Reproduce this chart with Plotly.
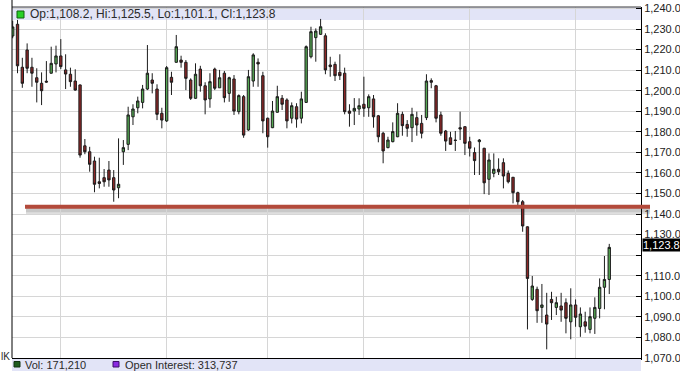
import plotly.graph_objects as go
import pandas as pd

# ---- data ----
open_ = [1226.6, 1232.3, 1211.4, 1219.8, 1211.4, 1206.3, 1203.6, 1204.6, 1208.5, 1213.0,
         1216.9, 1210.1, 1208.0, 1204.7, 1202.8, 1173.2, 1170.3, 1165.8, 1155.7, 1157.7,
         1161.4, 1157.7, 1152.8, 1170.3, 1173.9, 1187.3, 1191.7, 1194.3, 1200.8, 1205.2,
         1200.8, 1189.0, 1185.3, 1206.5, 1213.8, 1214.9, 1213.8, 1205.2, 1196.3, 1210.5,
         1202.4, 1196.0, 1210.5, 1201.4, 1208.5, 1198.7, 1205.7, 1189.8, 1197.1, 1180.9,
         1204.7, 1213.8, 1207.3, 1186.6, 1182.0, 1189.5, 1196.3, 1195.5, 1186.6, 1192.2,
         1186.6, 1194.3, 1216.5, 1225.8, 1227.4, 1226.7, 1212.5, 1212.8, 1208.9, 1208.5,
         1190.1, 1190.1, 1191.1, 1193.4, 1191.7, 1196.0, 1187.8, 1179.3, 1172.3, 1175.2,
         1177.6, 1188.5, 1183.6, 1182.0, 1186.9, 1184.1, 1186.9, 1204.9, 1202.4, 1188.2,
         1180.4, 1177.1, 1176.0, 1182.0, 1182.5, 1175.2, 1169.9, 1175.2, 1172.0, 1156.9,
         1159.8, 1161.8, 1165.0, 1159.8, 1157.9, 1150.4, 1146.0, 1133.8, 1098.5, 1103.4,
         1094.6, 1090.9, 1098.5, 1094.6, 1095.3, 1096.9, 1087.6, 1095.8, 1085.2, 1087.6,
         1083.9, 1089.3, 1094.1, 1104.4, 1108.2]
high = [1234.0, 1234.4, 1216.0, 1223.0, 1216.0, 1210.9, 1208.9, 1214.4, 1221.4, 1221.9,
        1225.1, 1217.7, 1211.2, 1210.4, 1203.0, 1176.5, 1172.7, 1167.9, 1167.4, 1161.9,
        1165.8, 1161.4, 1176.8, 1176.0, 1192.2, 1193.4, 1197.1, 1202.8, 1222.2, 1208.5,
        1203.1, 1191.7, 1212.0, 1209.2, 1227.1, 1217.0, 1214.9, 1206.0, 1213.3, 1212.1,
        1204.1, 1208.5, 1211.2, 1210.1, 1209.6, 1206.8, 1207.6, 1198.2, 1197.9, 1210.1,
        1218.2, 1215.7, 1209.2, 1186.9, 1195.0, 1202.4, 1197.9, 1196.3, 1194.3, 1193.9,
        1199.5, 1222.0, 1231.1, 1230.3, 1234.9, 1227.9, 1216.5, 1214.1, 1217.7, 1211.2,
        1193.4, 1196.4, 1196.3, 1206.8, 1198.2, 1197.9, 1188.2, 1180.0, 1177.6, 1184.6,
        1193.9, 1189.8, 1185.7, 1191.7, 1189.8, 1188.2, 1208.0, 1206.0, 1202.8, 1189.8,
        1180.9, 1180.0, 1180.4, 1189.8, 1182.6, 1177.6, 1172.4, 1176.5, 1172.2, 1169.5,
        1169.5, 1167.1, 1167.1, 1161.2, 1158.0, 1150.9, 1146.8, 1134.0, 1109.9, 1104.7,
        1106.0, 1101.7, 1102.2, 1099.8, 1101.7, 1099.0, 1103.9, 1098.5, 1094.6, 1092.5,
        1094.6, 1099.5, 1108.7, 1119.6, 1125.5]
low = [1225.5, 1208.5, 1201.4, 1208.5, 1201.9, 1194.3, 1193.0, 1203.9, 1208.3, 1208.9,
       1210.5, 1200.8, 1201.9, 1200.0, 1167.4, 1169.1, 1160.6, 1150.6, 1152.5, 1153.3,
       1153.3, 1146.0, 1147.7, 1163.9, 1171.1, 1183.3, 1189.0, 1191.4, 1200.3, 1198.7,
       1185.7, 1181.7, 1184.8, 1197.9, 1213.6, 1211.2, 1200.3, 1195.5, 1196.0, 1199.5,
       1188.5, 1191.7, 1200.3, 1201.4, 1194.3, 1194.6, 1188.2, 1188.5, 1177.1, 1180.5,
       1201.9, 1201.9, 1179.3, 1172.3, 1181.8, 1189.3, 1190.6, 1181.7, 1184.1, 1182.0,
       1184.1, 1194.0, 1215.7, 1214.1, 1227.1, 1208.0, 1206.8, 1204.7, 1205.2, 1188.5,
       1182.5, 1183.3, 1188.2, 1187.3, 1187.3, 1182.0, 1174.9, 1164.7, 1172.0, 1174.9,
       1177.4, 1178.1, 1177.6, 1175.0, 1178.1, 1176.8, 1185.7, 1201.2, 1184.6, 1178.1,
       1170.7, 1173.6, 1170.7, 1176.0, 1168.7, 1168.0, 1159.0, 1159.0, 1149.7, 1149.3,
       1157.9, 1159.0, 1152.5, 1154.9, 1145.2, 1143.6, 1131.4, 1083.9, 1097.8, 1087.1,
       1087.1, 1074.2, 1088.5, 1090.9, 1087.6, 1082.0, 1079.1, 1085.2, 1080.3, 1082.3,
       1082.0, 1081.7, 1089.3, 1093.7, 1101.1]
close = [1231.0, 1212.1, 1203.6, 1210.9, 1208.5, 1204.1, 1200.0, 1204.2, 1213.3, 1216.9,
         1211.7, 1208.1, 1204.4, 1200.3, 1168.7, 1170.3, 1164.2, 1154.5, 1154.9, 1155.7,
         1156.6, 1151.7, 1154.5, 1172.3, 1188.2, 1191.1, 1195.0, 1200.8, 1208.5, 1203.6,
         1188.5, 1185.7, 1211.2, 1204.1, 1221.4, 1213.8, 1206.0, 1196.3, 1208.0, 1202.4,
         1195.5, 1204.4, 1201.2, 1206.3, 1196.6, 1206.3, 1190.1, 1197.6, 1178.4, 1206.8,
         1217.4, 1213.0, 1185.3, 1177.6, 1190.1, 1197.1, 1193.4, 1185.3, 1192.7, 1186.2,
         1196.0, 1221.4, 1228.7, 1229.0, 1231.1, 1210.1, 1211.7, 1207.3, 1207.3, 1189.8,
         1189.0, 1191.4, 1192.7, 1191.4, 1197.1, 1187.3, 1177.6, 1170.7, 1176.0, 1180.1,
         1189.0, 1183.0, 1181.7, 1188.5, 1183.3, 1179.3, 1204.7, 1204.1, 1186.6, 1179.3,
         1175.5, 1173.9, 1175.8, 1181.4, 1174.4, 1172.0, 1166.0, 1176.0, 1155.2, 1166.3,
         1161.8, 1160.6, 1158.5, 1155.7, 1150.4, 1146.0, 1134.2, 1108.7, 1105.0, 1093.0,
         1095.8, 1086.5, 1096.9, 1096.9, 1093.3, 1089.3, 1095.8, 1089.8, 1091.4, 1085.5,
         1090.1, 1094.6, 1104.4, 1108.2, 1123.8]

holidays = ["2015-02-16", "2015-04-03", "2015-05-25", "2015-07-03"]
dates = [d.strftime("%Y-%m-%d") for d in pd.bdate_range("2015-02-13", "2015-08-12")
         if d.strftime("%Y-%m-%d") not in holidays]
month_starts = ["2015-03-02", "2015-04-01", "2015-05-01", "2015-06-01", "2015-07-01", "2015-08-03"]

price_ticks = list(range(1070, 1250, 10))
price_labels = ["" if v == 1120 else f"{v:,.1f}" for v in price_ticks]
support_level = 1143.5
last_close = 1123.8
header_text = "Op:1,108.2, Hi:1,125.5, Lo:1,101.1, Cl:1,123.8"
vol_text = "Vol: 171,210"
oi_text = "Open Interest: 313,737"

W, H = 680, 371
ML, MR, MT, MB = 12, 39, 7, 13
PW, PH = W - ML - MR, H - MT - MB


def px(x):
    return (x - ML) / PW


def py(y):
    return 1 - (y - MT) / PH


FONT = "Liberation Sans"
LAV = "#e2e4f7"

fig = go.Figure(go.Candlestick(
    x=dates, open=open_, high=high, low=low, close=close,
    increasing=dict(line=dict(color="#1c1c1c", width=1), fillcolor="#55a853"),
    decreasing=dict(line=dict(color="#1c1c1c", width=1), fillcolor="#8e2727"),
    whiskerwidth=0, showlegend=False, hoverinfo="skip",
))

shapes = [
    # header band
    dict(type="rect", xref="paper", yref="paper", x0=0, x1=1, y0=py(20), y1=1,
         fillcolor=LAV, line=dict(width=0), layer="between"),
    # top border
    dict(type="line", xref="paper", yref="paper", x0=0, x1=1, y0=1, y1=1,
         line=dict(color="#3a3a3a", width=1)),
    # left border
    dict(type="line", xref="paper", yref="paper", x0=0, x1=0, y0=0, y1=py(0),
         line=dict(color="#000000", width=1)),
    # header square
    dict(type="rect", xref="paper", yref="paper", x0=px(17), x1=px(24), y0=py(18), y1=py(11),
         fillcolor="#27d027", line=dict(color="#0e5e0e", width=1)),
    # bottom band
    dict(type="rect", xref="paper", yref="paper", x0=0, x1=1, y0=py(H), y1=py(359),
         fillcolor=LAV, line=dict(width=0)),
    dict(type="rect", xref="paper", yref="paper", x0=px(14), x1=px(20), y0=py(367), y1=py(361.5),
         fillcolor="#1f5c1f", line=dict(color="#113311", width=1)),
    dict(type="rect", xref="paper", yref="paper", x0=px(113), x1=px(119), y0=py(367), y1=py(361.5),
         fillcolor="#8a2be2", line=dict(color="#3d0f6b", width=1)),
    # support line shadow
    dict(type="rect", xref="paper", yref="y", x0=px(26), x1=px(650), y0=support_level - 3.6,
         y1=support_level - 0.6, fillcolor="rgba(150,150,150,0.30)", line=dict(width=0), layer="between"),
    dict(type="rect", xref="paper", yref="y", x0=px(26), x1=px(650), y0=support_level - 2.6,
         y1=support_level - 0.6, fillcolor="rgba(150,150,150,0.30)", line=dict(width=0), layer="between"),
    # support line
    dict(type="line", xref="paper", yref="y", x0=px(25), x1=px(650), y0=support_level, y1=support_level,
         line=dict(color="#b34a3b", width=4)),
]

annotations = [
    dict(text=header_text, xref="paper", yref="paper", x=px(28), y=py(14), xanchor="left",
         yanchor="middle", showarrow=False, font=dict(family=FONT, size=12, color="#2a2a2a")),
    dict(text=vol_text, xref="paper", yref="paper", x=px(23), y=py(364.5), xanchor="left",
         yanchor="middle", showarrow=False, font=dict(family=FONT, size=11, color="#2a2a2a")),
    dict(text=oi_text, xref="paper", yref="paper", x=px(123), y=py(364.5), xanchor="left",
         yanchor="middle", showarrow=False, font=dict(family=FONT, size=11, color="#2a2a2a")),
    dict(text="lK", xref="paper", yref="paper", x=px(0), y=py(356), xanchor="left",
         yanchor="middle", showarrow=False, borderpad=0,
         font=dict(family=FONT, size=10, color="#2a2a2a")),
    dict(text=f"{last_close:,.1f}", xref="paper", yref="y", x=px(642), y=last_close,
         xanchor="left", yanchor="middle", showarrow=False, bgcolor="#000000", borderpad=0,
         yshift=2, font=dict(family=FONT, size=11, color="#ffffff")),
]

fig.update_layout(
    width=W, height=H, margin=dict(l=ML, r=MR, t=MT, b=MB, autoexpand=False),
    paper_bgcolor="white", plot_bgcolor="white",
    shapes=shapes, annotations=annotations, showlegend=False,
    xaxis=dict(type="category", range=[-0.146, 130.6], tickvals=month_starts,
               showticklabels=False, ticks="", showgrid=True, gridcolor="#d6d6d6", gridwidth=1,
               showline=True, linecolor="#000000", linewidth=2, rangeslider=dict(visible=False),
               fixedrange=True, automargin=False),
    yaxis=dict(side="right", range=[1070.0, 1240.7], tickvals=price_ticks, ticktext=price_labels,
               ticks="inside", ticklen=5, tickcolor="#000000", showgrid=True, gridcolor="#d6d6d6",
               showline=True, linecolor="#000000", linewidth=1, zeroline=False, automargin=False,
               tickfont=dict(family=FONT, size=11, color="#222222"), fixedrange=True),
)

fig.write_html("out.html")
